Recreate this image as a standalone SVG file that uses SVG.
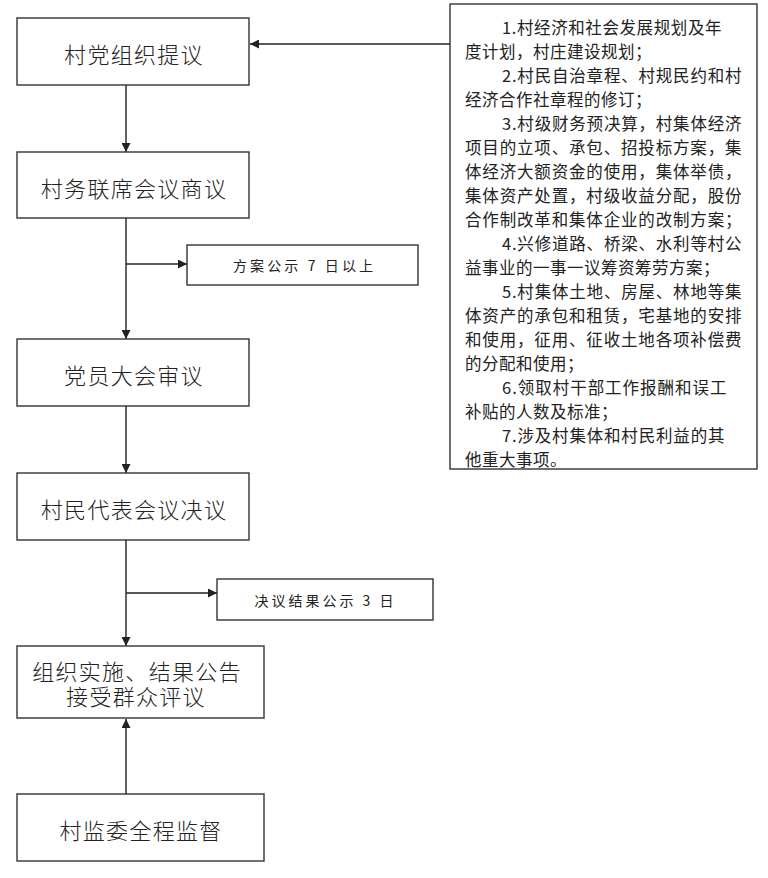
<svg xmlns="http://www.w3.org/2000/svg" width="768" height="878" viewBox="0 0 768 878">
<style>
.box{fill:#fff;stroke:#333;stroke-width:1.4}
.big{font-family:"Noto Sans CJK SC",sans-serif;font-size:22px;font-weight:300;fill:#222;text-anchor:middle;dominant-baseline:central;letter-spacing:1.3px}
.sm{font-family:"Noto Sans CJK SC",sans-serif;font-size:14px;fill:#222;text-anchor:middle;dominant-baseline:central}
.rt{font-family:"Noto Sans CJK SC",sans-serif;font-size:16.5px;fill:#222;dominant-baseline:central;letter-spacing:0.5px}
.ln{fill:none;stroke:#222;stroke-width:1.4;marker-end:url(#ah)}
</style>
<defs>
<marker id="ah" viewBox="0 0 10 10" refX="10" refY="5" markerWidth="9" markerHeight="9" markerUnits="userSpaceOnUse" orient="auto"><path d="M0,0 L10,5 L0,10 z" fill="#222"/></marker>
</defs>
<rect width="768" height="878" fill="#fff"/>
<g id="connectors">
<path class="ln" d="M450,44 H250"/>
<path class="ln" d="M126,85 V152"/>
<path class="ln" d="M126,218 V339"/>
<path class="ln" d="M126,264 H187"/>
<path class="ln" d="M126,406 V473"/>
<path class="ln" d="M126,540 V646"/>
<path class="ln" d="M126,593 H217"/>
<path class="ln" d="M126,794 V719"/>
</g>
<g id="n1"><rect class="box" x="17" y="18" width="232" height="67"/><text class="big" x="134" y="53">村党组织提议</text></g>
<g id="n2"><rect class="box" x="17" y="152" width="232" height="66"/><text class="big" x="134" y="187">村务联席会议商议</text></g>
<g id="n3"><rect class="box" x="17" y="339" width="232" height="67"/><text class="big" x="134" y="374">党员大会审议</text></g>
<g id="n4"><rect class="box" x="17" y="473" width="232" height="67"/><text class="big" x="134" y="508">村民代表会议决议</text></g>
<g id="n5"><rect class="box" x="17" y="646" width="247" height="72"/><text class="big"><tspan x="137" y="670">组织实施、结果公告</tspan><tspan x="136" y="695">接受群众评议</tspan></text></g>
<g id="n6"><rect class="box" x="17" y="794" width="247" height="67"/><text class="big" x="141" y="829">村监委全程监督</text></g>
<g id="s1"><rect class="box" x="187" y="245" width="231" height="40"/><text class="sm" x="303" y="265" textLength="140" lengthAdjust="spacing">方案公示 7 日以上</text></g>
<g id="s2"><rect class="box" x="217" y="579" width="216" height="41"/><text class="sm" x="324" y="600" textLength="139" lengthAdjust="spacing">决议结果公示 3 日</text></g>
<g id="matters">
<rect class="box" x="450" y="4" width="307" height="465"/>
<text class="rt" x="502" y="26.5" textLength="220" lengthAdjust="spacing">1.村经济和社会发展规划及年</text>
<text class="rt" x="465" y="50.5">度计划，村庄建设规划；</text>
<text class="rt" x="502" y="74.5" textLength="240" lengthAdjust="spacing">2.村民自治章程、村规民约和村</text>
<text class="rt" x="465" y="98.5">经济合作社章程的修订；</text>
<text class="rt" x="502" y="122.5" textLength="240" lengthAdjust="spacing">3.村级财务预决算，村集体经济</text>
<text class="rt" x="465" y="146.5" textLength="277" lengthAdjust="spacing">项目的立项、承包、招投标方案，集</text>
<text class="rt" x="465" y="170.5" textLength="277" lengthAdjust="spacing">体经济大额资金的使用，集体举债，</text>
<text class="rt" x="465" y="194.5" textLength="277" lengthAdjust="spacing">集体资产处置，村级收益分配，股份</text>
<text class="rt" x="465" y="218.5" textLength="277" lengthAdjust="spacing">合作制改革和集体企业的改制方案；</text>
<text class="rt" x="502" y="242.5" textLength="240" lengthAdjust="spacing">4.兴修道路、桥梁、水利等村公</text>
<text class="rt" x="465" y="266.5">益事业的一事一议筹资筹劳方案；</text>
<text class="rt" x="502" y="290.5" textLength="240" lengthAdjust="spacing">5.村集体土地、房屋、林地等集</text>
<text class="rt" x="465" y="314.5" textLength="277" lengthAdjust="spacing">体资产的承包和租赁，宅基地的安排</text>
<text class="rt" x="465" y="338.5" textLength="277" lengthAdjust="spacing">和使用，征用、征收土地各项补偿费</text>
<text class="rt" x="465" y="362.5">的分配和使用；</text>
<text class="rt" x="502" y="386.5" textLength="225" lengthAdjust="spacing">6.领取村干部工作报酬和误工</text>
<text class="rt" x="465" y="410.5">补贴的人数及标准；</text>
<text class="rt" x="502" y="434.5" textLength="223" lengthAdjust="spacing">7.涉及村集体和村民利益的其</text>
<text class="rt" x="465" y="458.5">他重大事项。</text>
</g>
</svg>
